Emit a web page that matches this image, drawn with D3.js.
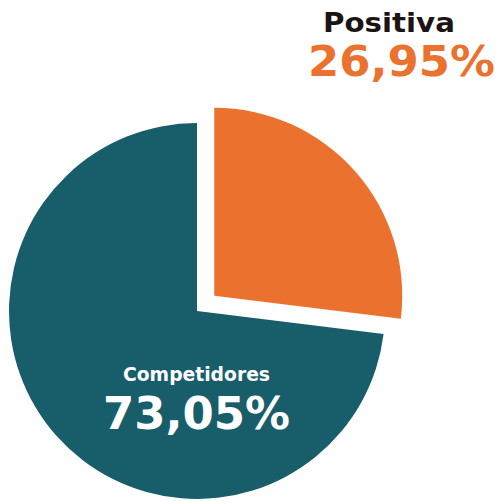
<!DOCTYPE html>
<html>
<head>
<meta charset="utf-8">
<script src="https://cdn.jsdelivr.net/npm/d3@7"></script>
<style>
  body { margin: 0; background: #fff; }
  svg { display: block; }
  text { font-family: "DejaVu Sans", sans-serif; font-weight: bold; }
</style>
</head>
<body>
<div id="chart"></div>
<script>
// share data
var labels = ["Positiva", "Competidores"];
var values = [26.95, 73.05];
var valueTexts = ["26,95%", "73,05%"];
var colors = ["#eb712e", "#175d6a"];

var width = 497,
    height = 501,
    radius = 188,
    cx = 197,
    cy = 311,
    explode = 23;

var svg = d3.select("#chart").append("svg")
    .attr("width", width)
    .attr("height", height);

var pie = d3.pie().sort(null).value((d) => d.value);
var arc = d3.arc().innerRadius(0).outerRadius(radius);

var slices = pie(labels.map((l, i) => ({label: l, value: values[i], text: valueTexts[i], color: colors[i]})));

var g = svg.append("g").attr("transform", "translate(" + cx + "," + cy + ")");

g.selectAll("path")
    .data(slices)
    .enter().append("path")
    .attr("d", arc)
    .attr("fill", (d) => d.data.color)
    .attr("transform", (d, i) => {
        if (i !== 0) return null;
        var a = (d.startAngle + d.endAngle) / 2;
        return "translate(" + (Math.sin(a) * explode) + "," + (-Math.cos(a) * explode) + ")";
    });

// labels
// Positiva sits outside, top right
svg.append("text")
    .attr("x", 323).attr("y", 32)
    .attr("font-size", 27)
    .attr("textLength", 132).attr("lengthAdjust", "spacingAndGlyphs")
    .attr("fill", "#1c1412")
    .text(slices[0].data.label);

svg.append("text")
    .attr("x", 308).attr("y", 76)
    .attr("font-size", 43)
    .attr("textLength", 187).attr("lengthAdjust", "spacingAndGlyphs")
    .attr("fill", colors[0])
    .text(slices[0].data.text);

// Competidores inside the teal slice
svg.append("text")
    .attr("x", 123).attr("y", 381)
    .attr("font-size", 20)
    .attr("textLength", 147).attr("lengthAdjust", "spacingAndGlyphs")
    .attr("fill", "#fff")
    .text(slices[1].data.label);

svg.append("text")
    .attr("x", 103).attr("y", 429)
    .attr("font-size", 45)
    .attr("textLength", 187).attr("lengthAdjust", "spacingAndGlyphs")
    .attr("fill", "#fff")
    .text(slices[1].data.text);
</script>
</body>
</html>
